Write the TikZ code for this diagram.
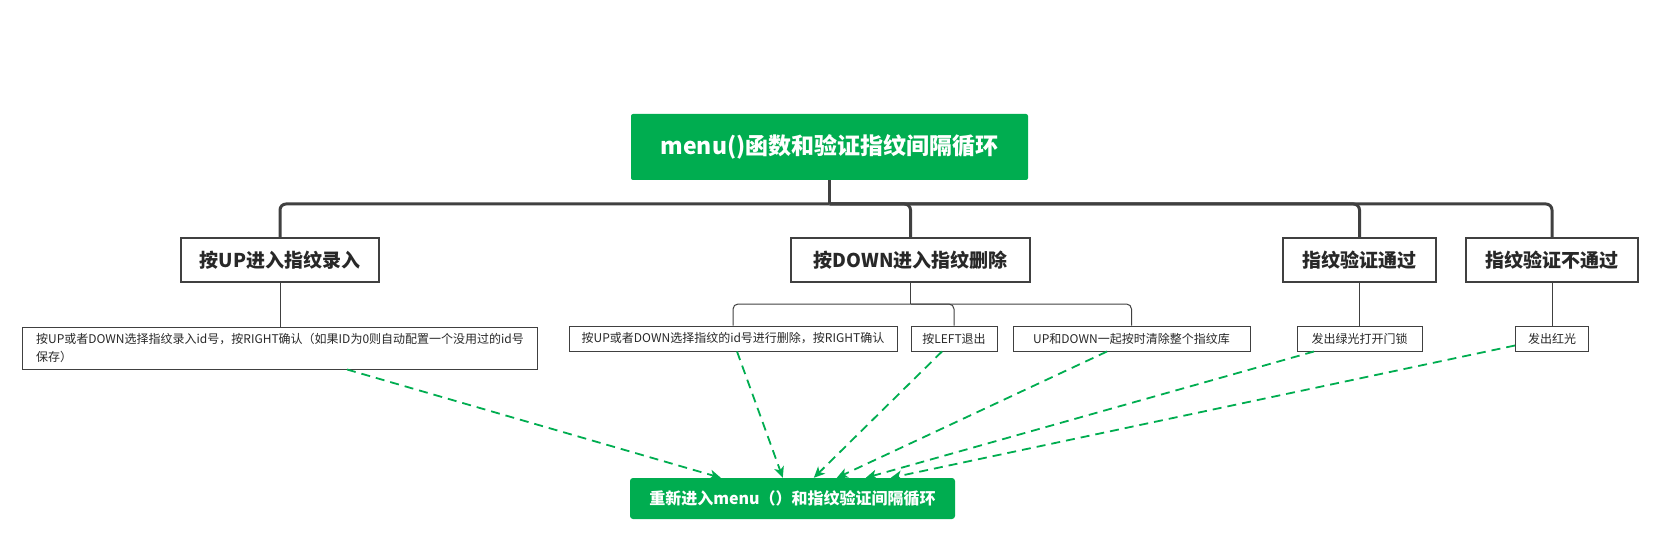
\documentclass[tikz,border=0pt]{standalone}
\usepackage{fontspec}
\setmainfont{Noto Sans CJK SC}
\usetikzlibrary{arrows.meta}
\definecolor{mgreen}{RGB}{0,173,80}
\definecolor{mline}{RGB}{64,64,64}
\definecolor{mtext}{RGB}{40,40,40}
\begin{document}
\begin{tikzpicture}[x=1pt,y=-1pt, every node/.style={font=\fontsize{12}{18}\selectfont,text=mtext,inner sep=0pt}]
  \tikzstyle{rootb}=[fill=mgreen,rounded corners=2pt,text=white,font=\bfseries\fontsize{23}{28}\selectfont,minimum height=66pt]
  \tikzstyle{lvone}=[draw=mline,line width=2pt,fill=white,font=\bfseries\fontsize{19}{23}\selectfont,minimum height=44pt]
  \tikzstyle{lvtwo}=[draw=mline,line width=1pt,fill=white,minimum height=25pt]
  \tikzstyle{bus}=[draw=mline,line width=3pt,rounded corners=6pt]
  \tikzstyle{twig}=[draw=mline,line width=1pt,rounded corners=5pt]
  \tikzstyle{ret}=[draw=mgreen,line width=1.8pt,dash pattern=on 9pt off 6pt,-{Stealth[length=11pt,width=10pt,inset=3pt]}]
  \useasboundingbox (0,0) rectangle (1660,540);
  \node[rootb,minimum width=397pt] (root) at (829.5,147) {menu()函数和验证指纹间隔循环};
  \node[lvone,minimum width=198pt] (up) at (280,260) {按UP进入指纹录入};
  \node[lvone,minimum width=239pt] (down) at (910.5,260) {按DOWN进入指纹删除};
  \node[lvone,minimum width=153pt] (pass) at (1359.5,260) {指纹验证通过};
  \node[lvone,minimum width=172pt] (fail) at (1552,260) {指纹验证不通过};
  \node[lvtwo,minimum width=515pt,minimum height=42pt,align=left] (upc) at (280,348) {按UP或者DOWN选择指纹录入id号，按RIGHT确认（如果ID为0则自动配置一个没用过的id号\\保存）};
  \node[lvtwo,minimum width=328pt] (del1) at (733,338.5) {按UP或者DOWN选择指纹的id号进行删除，按RIGHT确认};
  \node[lvtwo,minimum width=86pt] (del2) at (954,338.5) {按LEFT退出};
  \node[lvtwo,minimum width=237pt] (del3) at (1131.5,338.5) {UP和DOWN一起按时清除整个指纹库};
  \node[lvtwo,minimum width=125pt] (green) at (1359.5,338.5) {发出绿光打开门锁};
  \node[lvtwo,minimum width=73pt] (red) at (1552,338.5) {发出红光};
  \node[rootb,rounded corners=3pt,minimum width=325pt,minimum height=41pt,font=\bfseries\fontsize{16}{20}\selectfont] (fin) at (792.5,498.5) {重新进入menu（）和指纹验证间隔循环};
  \coordinate (rj) at (829.5,204); \coordinate (dj) at (910.5,304);
  \draw[bus] (root) -- (rj);
  \draw[bus] (rj) -| (up); \draw[bus] (rj) -| (down); \draw[bus] (rj) -| (pass); \draw[bus] (rj) -| (fail);
  \draw[twig] (up) -- (upc); \draw[twig] (pass) -- (green); \draw[twig] (fail) -- (red);
  \draw[twig] (down) -- (dj);
  \draw[twig] (dj) -| (del1); \draw[twig] (dj) -| (del2); \draw[twig] (dj) -| (del3);
  \draw[ret] ([xshift=67pt]upc.south) -- ([xshift=91pt]fin.north west);
  \draw[ret] ([xshift=4pt]del1.south) -- ([xshift=153pt]fin.north west);
  \draw[ret] ([xshift=-12pt]del2.south) -- ([xshift=184pt]fin.north west);
  \draw[ret] ([xshift=-24.5pt]del3.south) -- ([xshift=207pt]fin.north west);
  \draw[ret] ([xshift=-45.5pt]green.south) -- ([xshift=236pt]fin.north west);
  \draw[ret] ([yshift=6pt]red.south west) -- ([xshift=261pt]fin.north west);
\end{tikzpicture}
\end{document}
